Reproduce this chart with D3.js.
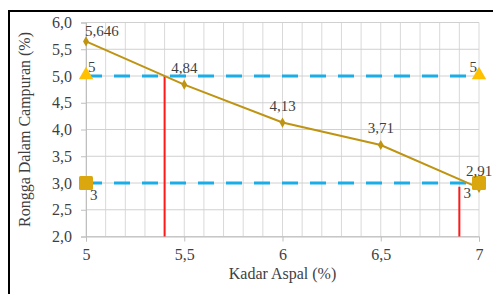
<!DOCTYPE html>
<html>
<head>
<meta charset="utf-8">
<script src="https://cdn.jsdelivr.net/npm/d3@7"></script>
<style>
  html, body { margin: 0; padding: 0; background: #fff; }
  svg { display: block; }
</style>
</head>
<body>
<svg id="chart" width="493" height="294"></svg>
<script>
// data
const kadar    = [5, 5.5, 6, 6.5, 7];
const rongga   = [5.646, 4.84, 4.13, 3.71, 2.91];
const rLabels  = ['5,646', '4,84', '4,13', '3,71', '2,91'];
const batasAtas  = [[5, 5], [7, 5]];   // upper limit line
const batasBawah = [[5, 3], [7, 3]];   // lower limit line
const redLines   = [[5.4, 5.0], [6.9, 2.93]]; // x, top of line
const xTicks = [5, 5.5, 6, 6.5, 7];
const yTicks = [2, 2.5, 3, 3.5, 4, 4.5, 5, 5.5, 6];

const fmt = d => String(d).replace('.', ',');
const fmtY = d => d.toFixed(1).replace('.', ',');

const svg = d3.select('#chart');
const W = 493, H = 294;
const margin = { top: 22.5, right: 14, bottom: 57.5, left: 86 };
const iw = W - margin.left - margin.right;
const ih = H - margin.top - margin.bottom;
const FONT = '"Liberation Serif","Times New Roman",serif';
const TXT = '#3f3f3f';

// outer frame (only top and left edges are visible)
svg.append('path')
  .attr('d', `M9,${H} L9,11 L${W},11`)
  .attr('fill', 'none').attr('stroke', '#000').attr('stroke-width', 2);

const g = svg.append('g').attr('transform', `translate(${margin.left},${margin.top})`);

const x = d3.scaleLinear().domain([5, 7]).range([0, iw]);
const y = d3.scaleLinear().domain([2, 6]).range([ih, 0]);

// grid
g.append('g').selectAll('line').data(d3.range(5, 7.0001, 0.1)).join('line')
  .attr('x1', d => x(d)).attr('x2', d => x(d)).attr('y1', 0).attr('y2', ih)
  .attr('stroke', '#d9d9d9').attr('stroke-width', 1);
g.append('g').selectAll('line').data(yTicks).join('line')
  .attr('x1', 0).attr('x2', iw).attr('y1', d => y(d)).attr('y2', d => y(d))
  .attr('stroke', '#d0d0d0').attr('stroke-width', 1);

// axes
const xAx = g.append('g').attr('transform', `translate(0,${ih})`)
  .call(d3.axisBottom(x).tickValues(xTicks).tickFormat(fmt).tickSize(5).tickPadding(7));
const yAx = g.append('g')
  .call(d3.axisLeft(y).tickValues(yTicks).tickFormat(fmtY).tickSize(5).tickPadding(9));
[xAx, yAx].forEach(sel => {
  sel.selectAll('text').style('font-size', '16px').style('font-family', FONT).attr('fill', TXT);
  sel.selectAll('.domain,.tick line').attr('stroke', '#bfbfbf');
});

// axis titles
g.append('text')
  .attr('x', x(6)).attr('y', ih + 42).attr('text-anchor', 'middle')
  .attr('font-family', FONT).attr('font-size', 16).attr('fill', TXT)
  .text('Kadar Aspal (%)');
g.append('text')
  .attr('transform', 'rotate(-90)').attr('x', -ih / 2).attr('y', -56)
  .attr('text-anchor', 'middle')
  .attr('font-family', FONT).attr('font-size', 16).attr('fill', TXT)
  .text('Rongga Dalam Campuran (%)');

// red vertical lines
g.append('g').selectAll('line').data(redLines).join('line')
  .attr('x1', d => x(d[0])).attr('x2', d => x(d[0]))
  .attr('y1', d => y(d[1])).attr('y2', ih)
  .attr('stroke', '#ff1a1a').attr('stroke-width', 2);

// dashed limit lines
const line = d3.line().x(d => x(d[0])).y(d => y(d[1]));
[batasAtas, batasBawah].forEach(dat => {
  g.append('path').datum(dat).attr('d', line)
    .attr('fill', 'none').attr('stroke', '#1aaee8').attr('stroke-width', 3)
    .attr('stroke-dasharray', '16,12');
});

// main series
const pts = kadar.map((k, i) => [k, rongga[i]]);
g.append('path').datum(pts).attr('d', line)
  .attr('fill', 'none').attr('stroke', '#bf9412').attr('stroke-width', 2);
g.append('g').selectAll('path').data(pts).join('path')
  .attr('transform', d => `translate(${x(d[0])},${y(d[1])})`)
  .attr('d', d3.symbol(d3.symbolDiamond, 30))
  .attr('fill', '#bf9412');

// limit markers
g.append('g').selectAll('path').data(batasAtas).join('path')
  .attr('transform', d => `translate(${x(d[0])},${y(d[1]) - 1})`)
  .attr('d', d3.symbol(d3.symbolTriangle, 90))
  .attr('fill', '#ffc000');
g.append('g').selectAll('rect').data(batasBawah).join('rect')
  .attr('x', d => x(d[0]) - 7).attr('y', d => y(d[1]) - 7)
  .attr('width', 14).attr('height', 14).attr('rx', 1.5)
  .attr('fill', '#dba70f');

// data labels
const lblStyle = sel => sel.attr('font-family', FONT).attr('font-size', 15).attr('fill', TXT);
const dataLbl = [[0, 'start', -1, -5], [1, 'middle', 0, -12], [2, 'middle', 0, -12], [3, 'middle', 0, -12], [4, 'middle', 0, -12]];
g.append('g').selectAll('text').data(dataLbl).join('text')
  .attr('x', d => x(kadar[d[0]]) + d[2]).attr('y', d => y(rongga[d[0]]) + d[3])
  .attr('text-anchor', d => d[1]).text(d => rLabels[d[0]]).call(lblStyle);

g.append('g').selectAll('text').data(batasAtas).join('text')
  .attr('x', (d, i) => x(d[0]) + (i ? -2 : 2)).attr('y', d => y(d[1]) - 4)
  .attr('text-anchor', (d, i) => i ? 'end' : 'start')
  .text(d => fmt(d[1])).call(lblStyle);
g.append('g').selectAll('text').data(batasBawah).join('text')
  .attr('x', (d, i) => x(d[0]) + (i ? -8 : 4)).attr('y', (d, i) => y(d[1]) + (i ? 15 : 17))
  .attr('text-anchor', (d, i) => i ? 'end' : 'start')
  .text(d => fmt(d[1])).call(lblStyle);
</script>
</body>
</html>
